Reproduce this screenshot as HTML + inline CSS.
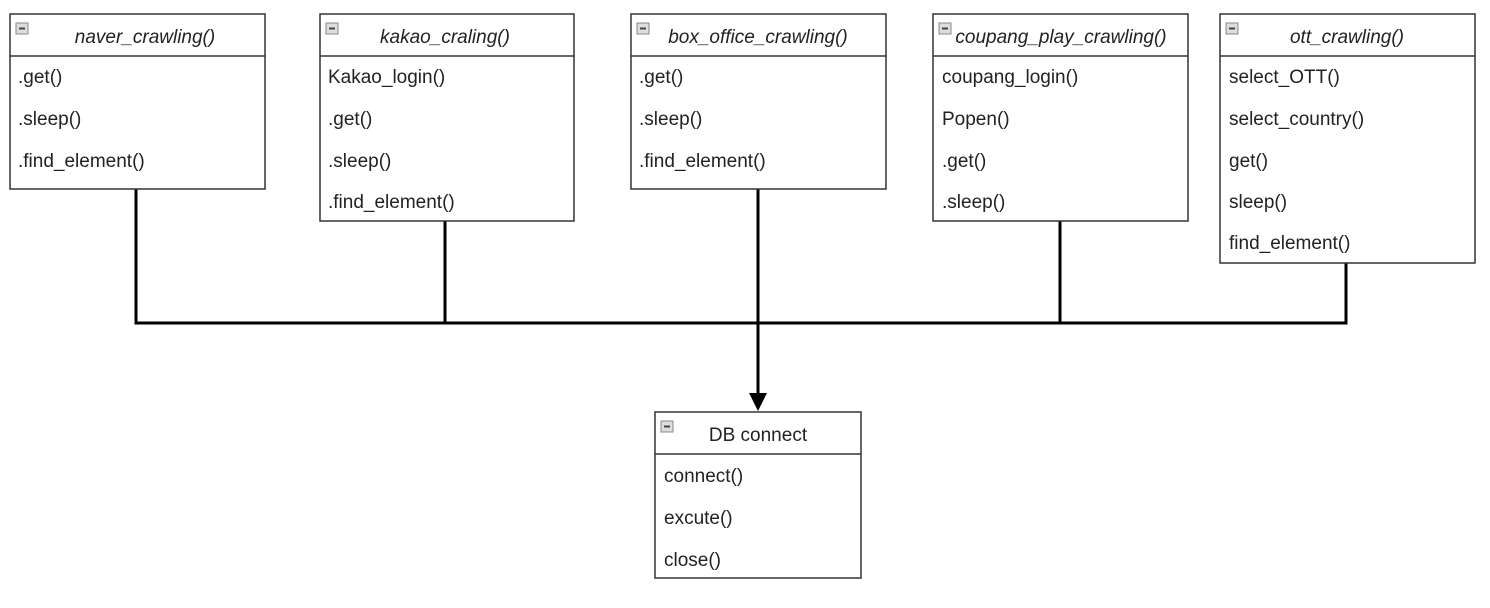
<!DOCTYPE html>
<html><head><meta charset="utf-8"><style>
html,body{margin:0;padding:0;background:#fff;}
svg{display:block;}
text{font-family:"Liberation Sans",Arial,sans-serif;font-size:19px;fill:#222;}
.h{font-style:italic;text-anchor:middle;}
</style></head><body>
<svg width="1490" height="608" viewBox="0 0 1490 608" xmlns="http://www.w3.org/2000/svg">
<g stroke="#000" stroke-width="3" fill="none">
<line x1="136" y1="189" x2="136" y2="324"/>
<line x1="445" y1="221" x2="445" y2="324"/>
<line x1="758" y1="189" x2="758" y2="398"/>
<line x1="1060" y1="221" x2="1060" y2="324"/>
<line x1="1346" y1="263" x2="1346" y2="324"/>
<line x1="134.5" y1="323" x2="1347.5" y2="323"/>
</g>
<polygon points="749,393 767,393 758,411" fill="#000"/>
<g stroke="#333" stroke-width="1.5" fill="#fff">
<rect x="10" y="14" width="255" height="175"/><line x1="10" y1="56" x2="265" y2="56"/>
<rect x="320" y="14" width="254" height="207"/><line x1="320" y1="56" x2="574" y2="56"/>
<rect x="631" y="14" width="255" height="175"/><line x1="631" y1="56" x2="886" y2="56"/>
<rect x="933" y="14" width="255" height="207"/><line x1="933" y1="56" x2="1188" y2="56"/>
<rect x="1220" y="14" width="255" height="249"/><line x1="1220" y1="56" x2="1475" y2="56"/>
<rect x="655" y="412" width="206" height="166"/><line x1="655" y1="454" x2="861" y2="454"/>
</g>
<g fill="#ddd" stroke="#888" stroke-width="1">
<rect x="16" y="23" width="12" height="11"/><rect x="326" y="23" width="12" height="11"/>
<rect x="637" y="23" width="12" height="11"/><rect x="939" y="23" width="12" height="11"/>
<rect x="1226" y="23" width="12" height="11"/><rect x="661" y="421" width="12" height="11"/>
</g>
<g stroke="#444" stroke-width="2">
<line x1="19" y1="28.5" x2="25" y2="28.5"/><line x1="329" y1="28.5" x2="335" y2="28.5"/>
<line x1="640" y1="28.5" x2="646" y2="28.5"/><line x1="942" y1="28.5" x2="948" y2="28.5"/>
<line x1="1229" y1="28.5" x2="1235" y2="28.5"/><line x1="664" y1="426.5" x2="670" y2="426.5"/>
</g>
<text class="h" x="145" y="43">naver_crawling()</text>
<text class="h" x="445" y="43">kakao_craling()</text>
<text class="h" x="758" y="43">box_office_crawling()</text>
<text class="h" x="1061" y="43">coupang_play_crawling()</text>
<text class="h" x="1347" y="43">ott_crawling()</text>
<text x="758" y="441" text-anchor="middle">DB connect</text>
<text x="18" y="83">.get()</text><text x="18" y="125">.sleep()</text><text x="18" y="167">.find_element()</text>
<text x="328" y="83">Kakao_login()</text><text x="328" y="125">.get()</text><text x="328" y="167">.sleep()</text><text x="328" y="208">.find_element()</text>
<text x="639" y="83">.get()</text><text x="639" y="125">.sleep()</text><text x="639" y="167">.find_element()</text>
<text x="942" y="83">coupang_login()</text><text x="942" y="125">Popen()</text><text x="942" y="167">.get()</text><text x="942" y="208">.sleep()</text>
<text x="1229" y="83">select_OTT()</text><text x="1229" y="125">select_country()</text><text x="1229" y="167">get()</text><text x="1229" y="208">sleep()</text><text x="1229" y="249">find_element()</text>
<text x="664" y="482">connect()</text><text x="664" y="524">excute()</text><text x="664" y="566">close()</text>
</svg>
</body></html>
